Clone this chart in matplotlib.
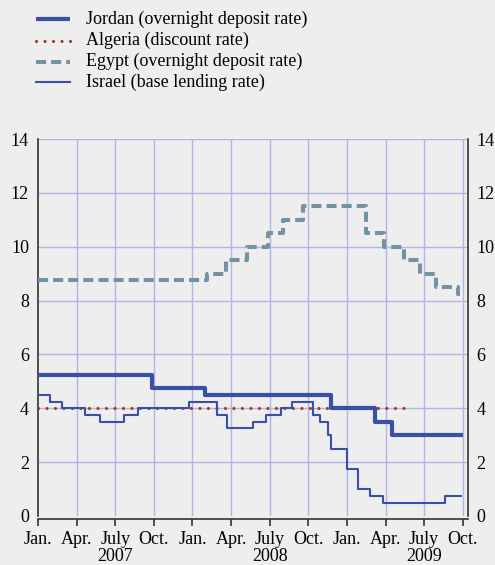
import matplotlib
matplotlib.use("Agg")
import matplotlib.pyplot as plt
import matplotlib.transforms as mtransforms
from matplotlib.lines import Line2D

# Months since Jan. 2007 (step start positions) and rates
jordan_x = [0, 8.86, 13.0, 22.8, 26.2, 27.5, 33.0]
jordan_y = [5.25, 4.75, 4.5, 4.0, 3.5, 3.0, 3.0]

algeria_x = [0, 28.7]
algeria_y = [4.0, 4.0]

egypt_x = [0, 13.1, 14.6, 16.2, 17.9, 19.0, 20.6, 25.5, 26.9, 28.4, 29.7, 30.9, 32.6, 33.0]
egypt_y = [8.75, 9.0, 9.5, 10.0, 10.5, 11.0, 11.5, 10.5, 10.0, 9.5, 9.0, 8.5, 8.25, 8.25]

israel_x = [0, 0.93, 1.84, 3.65, 4.8, 6.7, 7.8, 11.75, 13.9, 14.7, 16.7, 17.7, 18.9, 19.7,
            21.35, 21.9, 22.5, 22.8, 23.98, 24.9, 25.8, 26.8, 31.6, 32.9]
israel_y = [4.5, 4.25, 4.0, 3.75, 3.5, 3.75, 4.0, 4.25, 3.75, 3.25, 3.5, 3.75, 4.0, 4.25,
            3.75, 3.5, 3.0, 2.5, 1.75, 1.0, 0.75, 0.5, 0.75, 0.75]

quarter_labels = ["Jan.", "Apr.", "July", "Oct."] * 3
year_labels = ["2007", "2008", "2009"]
y_ticks = [0, 2, 4, 6, 8, 10, 12, 14]

series_labels = ["Jordan (overnight deposit rate)", "Algeria (discount rate)",
                 "Egypt (overnight deposit rate)", "Israel (base lending rate)"]

BG = "#eeeeee"
GRID = "#b4b4e4"
BLUE = "#3a4fa8"
EGY = "#7392a2"
ALG = "#a43a2c"
FONT = "Liberation Serif"
FS = 13

plt.rcParams["font.family"] = [FONT, "DejaVu Serif"]

W, H = 495, 565
fig = plt.figure(figsize=(W / 100, H / 100), dpi=100, facecolor=BG)
ax = fig.add_axes([38 / W, 49 / H, 429.5 / W, 377 / H], facecolor=BG)

ax.set_xlim(0, 33.37)
ax.set_ylim(0, 14)

# grid
quarters = list(range(0, 34, 3))
for q in quarters[1:]:
    ax.axvline(q, color=GRID, lw=1.0, zorder=1)
for yv in y_ticks[1:]:
    ax.axhline(yv, color=GRID, lw=1.0, zorder=1)

styles = [
    dict(color=BLUE, lw=3.0, solid_capstyle="butt"),
    dict(color=ALG, lw=2.3, linestyle=(0, (0.01, 2.65)), dash_capstyle="round"),
    dict(color=EGY, lw=2.9, linestyle=(0, (2.5, 1.25))),
    dict(color=BLUE, lw=1.5),
]

ax.step(jordan_x, jordan_y, where="post", zorder=4, **styles[0])
ax.step(algeria_x, algeria_y, where="post", zorder=3, **styles[1])
ax.step(egypt_x, egypt_y, where="post", zorder=3, **styles[2])
ax.step(israel_x, israel_y, where="post", zorder=3, **styles[3])

# spines
ax.spines["top"].set_visible(False)
for s in ["left", "right", "bottom"]:
    ax.spines[s].set_color("#333333")
    ax.spines[s].set_linewidth(1.2)
ax.spines["bottom"].set_position(("outward", 2))
ax.spines["left"].set_bounds(0, 14)
ax.spines["right"].set_bounds(0, 14)

ax.set_xticks(quarters)
ax.set_xticklabels(quarter_labels, fontsize=FS)
ax.tick_params(axis="x", direction="out", length=5, width=1.2, color="#333333", pad=4)
ax.set_yticks(y_ticks)
ax.set_yticklabels([str(v) for v in y_ticks], fontsize=FS)
ax.tick_params(axis="y", length=0, pad=6.5, labelleft=True, labelright=True)

trans = mtransforms.blended_transform_factory(ax.transData, fig.transFigure)
for i, yl in enumerate(year_labels):
    ax.text(6 + 12 * i, 1 - 548 / H, yl, transform=trans, ha="center", va="top", fontsize=FS)

# legend (manual, figure pixel coordinates)
rows_y = [19, 40.5, 61.5, 82]
for (yy, st, lab) in zip(rows_y, styles, series_labels):
    fig.add_artist(Line2D([36 / W, 70 / W], [1 - yy / H, 1 - yy / H],
                          transform=fig.transFigure, **st))
    fig.text(86 / W, 1 - yy / H, lab, ha="left", va="center", fontsize=FS)

fig.savefig("out.png", dpi=100, facecolor=BG)
